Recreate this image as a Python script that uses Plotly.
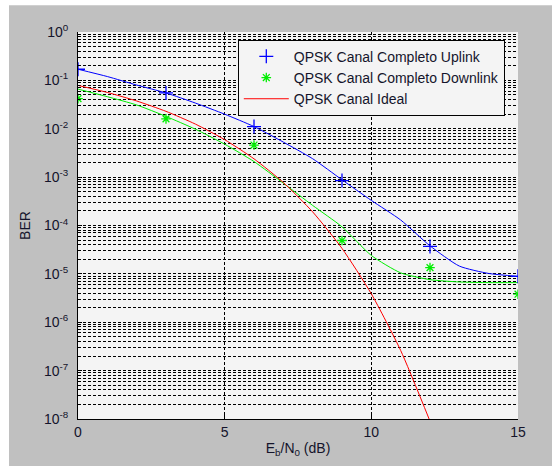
import plotly.graph_objects as go

# ---- data ----
x_markers = [0, 3, 6, 9, 12, 15]
uplink_markers = [0.17, 0.055, 0.0111, 8.5e-4, 3.7e-5, 8.9e-6]
downlink_markers = [0.042, 0.016, 4.6e-3, 4.9e-5, 1.35e-5, 3.8e-6]

x_curve = [0, 1, 2, 3, 4, 5, 6, 7, 8, 9, 10, 11, 12, 13, 14, 15]
uplink_curve = [0.17, 0.12, 0.08, 0.055, 0.034, 0.02, 0.0111, 5.3e-3, 2.4e-3,
                8.8e-4, 3.3e-4, 1.3e-4, 3.8e-5, 1.45e-5, 1.02e-5, 8.9e-6]
downlink_curve = [0.066, 0.046, 0.031, 0.018, 0.0098, 0.0048, 2.1e-3, 7.5e-4,
                  2.6e-4, 9.4e-5, 2.4e-5, 1.05e-5, 7.6e-6, 6.8e-6, 6.6e-6, 6.6e-6]

x_ideal = [0, 1, 2, 3, 4, 5, 6, 7, 8, 9, 10, 11, 12]
ideal_curve = [0.0786, 0.0563, 0.0375, 0.0229, 0.0125, 5.95e-3, 2.39e-3, 7.73e-4,
               1.91e-4, 3.36e-5, 3.87e-6, 2.61e-7, 9.01e-9]

y_tickvals = [1e-8, 1e-7, 1e-6, 1e-5, 1e-4, 1e-3, 1e-2, 1e-1, 1e0]
y_ticktext = ["10<sup>-8</sup>", "10<sup>-7</sup>", "10<sup>-6</sup>", "10<sup>-5</sup>",
              "10<sup>-4</sup>", "10<sup>-3</sup>", "10<sup>-2</sup>", "10<sup>-1</sup>",
              "10<sup>0</sup>"]
x_tickvals = [0, 5, 10, 15]

names = ["QPSK Canal Completo Uplink", "QPSK Canal Completo Downlink", "QPSK Canal Ideal"]

BLUE = "#0000ff"
GREEN = "#00ee00"
RED = "#ff0000"

fig = go.Figure()

# curves (no legend)
fig.add_trace(go.Scatter(x=x_curve, y=uplink_curve, mode="lines",
                         line=dict(color=BLUE, width=1, shape="spline", smoothing=0.6),
                         showlegend=False, hoverinfo="skip"))
fig.add_trace(go.Scatter(x=x_curve, y=downlink_curve, mode="lines",
                         line=dict(color=GREEN, width=1, shape="spline", smoothing=0.6),
                         showlegend=False, hoverinfo="skip"))

# markers
fig.add_trace(go.Scatter(x=x_markers, y=uplink_markers, mode="markers", name=names[0],
                         marker=dict(symbol="cross-thin-open", size=10,
                                     line=dict(color=BLUE, width=1.3), color=BLUE)))
fig.add_trace(go.Scatter(x=x_markers, y=downlink_markers, mode="markers", name=names[1],
                         marker=dict(symbol="asterisk-open", size=8,
                                     line=dict(color=GREEN, width=1.3), color=GREEN)))
fig.add_trace(go.Scatter(x=x_ideal, y=ideal_curve, mode="lines", name=names[2],
                         line=dict(color=RED, width=1, shape="spline", smoothing=0.6)))

TXT = "#14142b"
FONT = "Liberation Sans, Arial, sans-serif"

fig.update_layout(
    width=552, height=466,
    margin=dict(l=78, r=34, t=32, b=44),
    paper_bgcolor="#c0c0c0",
    plot_bgcolor="#f4f4f4",
    font=dict(family=FONT, size=13, color=TXT),
    showlegend=True,
    legend=dict(x=0.97, y=0.98, xanchor="right", yanchor="top",
                bgcolor="#f4f4f4", bordercolor="black", borderwidth=1,
                font=dict(family=FONT, size=14, color=TXT),
                itemwidth=45, tracegroupgap=0),
    xaxis=dict(range=[0, 15], tickvals=x_tickvals, showgrid=True,
               gridcolor="black", griddash="3px,2px", gridwidth=1,
               showline=True, linecolor="black", linewidth=1, mirror=False,
               ticks="inside", ticklen=4, tickcolor="black", zeroline=False,
               tickfont=dict(size=14, color=TXT),
               title=dict(text="E<sub>b</sub>/N<sub>0</sub> (dB)", standoff=4,
                          font=dict(size=14, color=TXT))),
    yaxis=dict(type="log", range=[-8, 0], tickvals=y_tickvals, ticktext=y_ticktext,
               showgrid=True, gridcolor="black", griddash="3px,2px", gridwidth=1,
               showline=True, linecolor="black", linewidth=1, mirror=False,
               ticks="inside", ticklen=4, tickcolor="black", zeroline=False,
               tickfont=dict(size=14, color=TXT), ticklabelstandoff=6,
               minor=dict(dtick="D1", showgrid=True, gridcolor="black",
                          griddash="3px,2px", gridwidth=1, ticks="inside",
                          ticklen=2, tickcolor="black"),
               title=dict(text="BER", standoff=10, font=dict(size=14, color=TXT))),
    shapes=[
        dict(type="rect", xref="paper", yref="paper", layer="above",
             x0=-0.2, x1=(9 - 78) / 440, y0=-0.2, y1=1.2,
             fillcolor="white", line=dict(width=0)),
        dict(type="rect", xref="paper", yref="paper", layer="above",
             x0=-0.2, x1=1.2, y0=(422 - 5) / 390, y1=1.2,
             fillcolor="white", line=dict(width=0)),
    ],
)

fig.write_html("out.html")
